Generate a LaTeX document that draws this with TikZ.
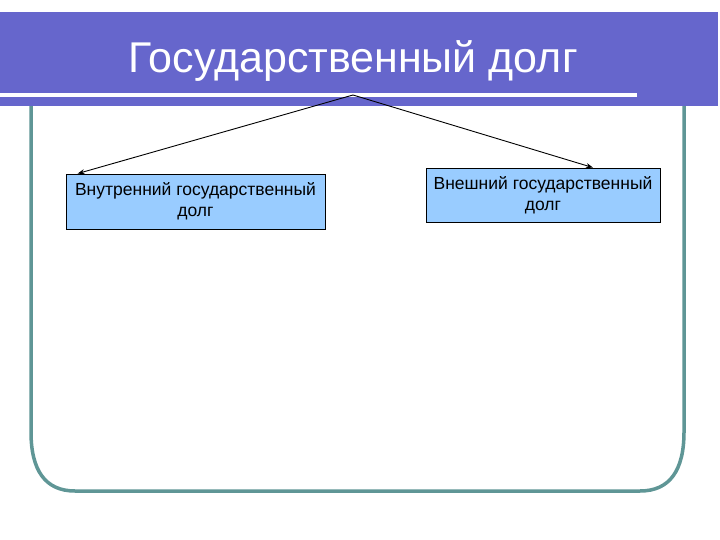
\documentclass[tikz,border=0pt]{standalone}
\usepackage{fontspec}
\setmainfont{Liberation Sans}
\usetikzlibrary{arrows.meta}
\definecolor{barblue}{HTML}{6666CC}
\definecolor{frameteal}{HTML}{5F9696}
\definecolor{boxblue}{HTML}{99CCFF}
\tikzset{
  subbox/.style={draw=black, fill=boxblue, line width=0.8pt, align=center, font=\fontsize{17.5}{21}\selectfont, inner sep=0pt},
  conn/.style={-{Stealth[length=7pt,width=5pt]}, line width=0.9pt}
}
\begin{document}
\begin{tikzpicture}[x=1pt,y=-1pt]
\useasboundingbox[fill=white] (0,0) rectangle (720,540);
% frame
\draw[frameteal, line width=3.5pt] (31,100) -- (31,432) .. controls (31,470) and (45,491) .. (75,491) -- (640,491) .. controls (670,491) and (684,470) .. (684,432) -- (684,100);
% title bar
\fill[barblue] (0,12) rectangle (718,106);
\fill[white] (0,93.5) rectangle (637,97);
\node[text=white, font=\fontsize{43}{47}\selectfont, anchor=base] (title) at (353,73) {Государственный долг};
\coordinate (apex) at (353,95);
% boxes
\node[subbox, minimum width=259pt, minimum height=55pt] (left) at (195.5,201.5) {Внутренний государственный\\долг};
\node[subbox, minimum width=234pt, minimum height=54pt] (right) at (543,195) {Внешний государственный\\долг};
\draw[conn] (apex) -- ([xshift=12pt]left.north west);
\draw[conn] (apex) -- ([xshift=50pt]right.north);
\end{tikzpicture}
\end{document}
